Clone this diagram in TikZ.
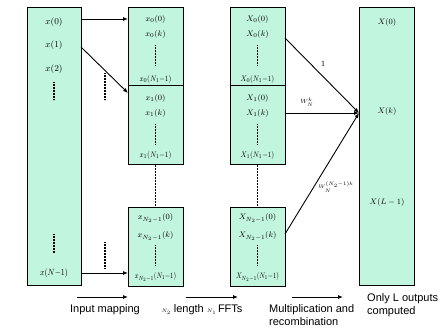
\documentclass[tikz,border=0pt]{standalone}
\usepackage{graphicx}
\usepackage{fontspec}
\setmainfont{Liberation Serif}
\newfontfamily\labfont{Liberation Sans}
\usetikzlibrary{arrows.meta}
\definecolor{mint}{RGB}{193,245,222}
\begin{document}
\begin{tikzpicture}[x=1pt,y=-1pt,
  box/.style={draw,fill=mint,line width=0.8pt,rectangle,anchor=north west,inner sep=0pt},
  mtxt/.style={inner sep=0pt,font=\fontsize{8.5}{9}\selectfont},
  ntxt/.style={inner sep=0pt,font=\fontsize{8.2}{9}\selectfont},
  btxt/.style={inner sep=0pt,font=\fontsize{9.5}{10}\selectfont},
  lab/.style={inner sep=0pt,font=\labfont\fontsize{11}{13}\selectfont,align=left},
  arr/.style={line width=0.9pt,-{Latex[length=5pt,width=4pt]}},
  dots/.style={line width=1.1pt,dash pattern=on 0.8pt off 0.7pt},
  vdash/.style={line width=1.1pt,dash pattern=on 2pt off 1pt}]
\useasboundingbox (0,0) rectangle (446,327);
% boxes
\node[box,minimum width=54pt,minimum height=278pt] (in) at (27,7) {};
\node[box,minimum width=55pt,minimum height=78pt] (a0) at (128,7) {};
\node[box,minimum width=55pt,minimum height=79pt] (a1) at (128,85) {};
\node[box,minimum width=55pt,minimum height=79pt] (a2) at (128,207) {};
\node[box,minimum width=55pt,minimum height=78pt] (b0) at (230,7) {};
\node[box,minimum width=55pt,minimum height=79pt] (b1) at (230,85) {};
\node[box,minimum width=55pt,minimum height=79pt] (b2) at (230,207) {};
\node[box,minimum width=55pt,minimum height=278pt] (out) at (359,7) {};
% input texts
\node[btxt] (ix0) at (54,22) {$x(0)$};
\node[btxt] (ix1) at (54,45) {$x(1)$};
\node[btxt] (ix2) at (54,69) {$x(2)$};
\node[btxt] (ixn) at (54,273) {\scalebox{0.85}[1]{$x(N{-}1)$}};
\coordinate (id1a) at (54,82); \coordinate (id1b) at (54,100);
\coordinate (id2a) at (54,234); \coordinate (id2b) at (54,253);
\draw[dots] (id1a) -- (id1b);
\draw[dots] (id2a) -- (id2b);
% column a texts
\node[mtxt] (a00) at (155.5,19) {$x_0(0)$};
\node[mtxt] (a0k) at (155.5,34) {$x_0(k)$};
\node[ntxt] (a0n) at (155.5,79) {\scalebox{0.85}[1]{$x_0(N_1{-}1)$}};
\node[mtxt] (a10) at (155.5,98) {$x_1(0)$};
\node[mtxt] (a1k) at (155.5,113) {$x_1(k)$};
\node[ntxt] (a1n) at (155.5,155) {\scalebox{0.85}[1]{$x_1(N_1{-}1)$}};
\node[mtxt] (a20) at (155.5,218) {$x_{N_2-1}(0)$};
\node[mtxt] (a2k) at (155.5,236) {$x_{N_2-1}(k)$};
\node[ntxt] (a2n) at (155.5,277) {\scalebox{0.78}[1]{$x_{N_2-1}(N_1{-}1)$}};
\draw[dots] (155.5,45) -- (155.5,65);
\draw[dots] (155.5,124) -- (155.5,144);
\draw[dots] (155.5,245) -- (155.5,265);
% column b texts
\node[mtxt] (b00) at (257.5,19) {$X_0(0)$};
\node[mtxt] (b0k) at (257.5,34) {$X_0(k)$};
\node[ntxt] (b0n) at (257.5,79) {\scalebox{0.85}[1]{$X_0(N_1{-}1)$}};
\node[mtxt] (b10) at (257.5,98) {$X_1(0)$};
\node[mtxt] (b1k) at (257.5,113) {$X_1(k)$};
\node[ntxt] (b1n) at (257.5,155) {\scalebox{0.85}[1]{$X_1(N_1{-}1)$}};
\node[mtxt] (b20) at (257.5,218) {$X_{N_2-1}(0)$};
\node[mtxt] (b2k) at (257.5,236) {$X_{N_2-1}(k)$};
\node[ntxt] (b2n) at (257.5,277) {\scalebox{0.78}[1]{$X_{N_2-1}(N_1{-}1)$}};
\draw[dots] (257.5,45) -- (257.5,65);
\draw[dots] (257.5,124) -- (257.5,144);
\draw[dots] (257.5,245) -- (257.5,265);
% output texts
\node[mtxt] (o0) at (387,22) {$X(0)$};
\node[mtxt] (ok) at (387,111) {$X(k)$};
\node[mtxt] (ol) at (387,202) {$X(L-1)$};
% dashed links
\draw[vdash] (a1.south) -- (a2.north);
\draw[vdash] (b1.south) -- (b2.north);
% input mapping arrows
\coordinate (s1) at (81,47); \coordinate (e1) at (128,93);
\draw[arr] (in.east |- a00) -- (a0.west |- a00);
\draw[arr] (s1) -- (e1);
\draw[arr] (in.east |- ixn) -- (a2.west |- ixn);
\draw[dots] (105,73) -- (105,100);
\draw[dots] (105,242) -- (105,268);
% recombination arrows
\coordinate (t) at (359,113);
\coordinate (r0) at (285,38);
\coordinate (r2) at (285,234);
\draw[arr] (r0) -- (t);
\draw[arr] (b1.east |- t) -- (t);
\draw[arr] (r2) -- (t);
\node[inner sep=0pt,font=\fontsize{8}{9}\selectfont] (l1) at (323,64) {1};
\node[inner sep=0pt,font=\fontsize{6}{7}\selectfont] (lw) at (307,102) {$W_N^k$};
\node[inner sep=0pt,font=\fontsize{4.5}{5}\selectfont] (lw2) at (336,187) {$W_N^{(N_2-1)k}$};
% bottom captions
\coordinate (c1a) at (77,297); \coordinate (c1b) at (128,297);
\coordinate (c2a) at (186,297); \coordinate (c2b) at (238,297);
\coordinate (c3a) at (292,297); \coordinate (c3b) at (343,297);
\draw[arr] (c1a) -- (c1b);
\draw[arr] (c2a) -- (c2b);
\draw[arr] (c3a) -- (c3b);
\node[lab] (t1) at (105,310) {Input mapping};
\node[lab] (t2) at (202,310) {{\fontsize{5}{6}\selectfont$N_2$} length {\fontsize{5}{6}\selectfont$N_1$}\,FFTs};
\node[lab,anchor=west] (t3) at (269,315.5) {Multiplication and\\recombination};
\node[lab,anchor=west] (t4) at (367,305.5) {Only L outputs\\computed};
\end{tikzpicture}
\end{document}
